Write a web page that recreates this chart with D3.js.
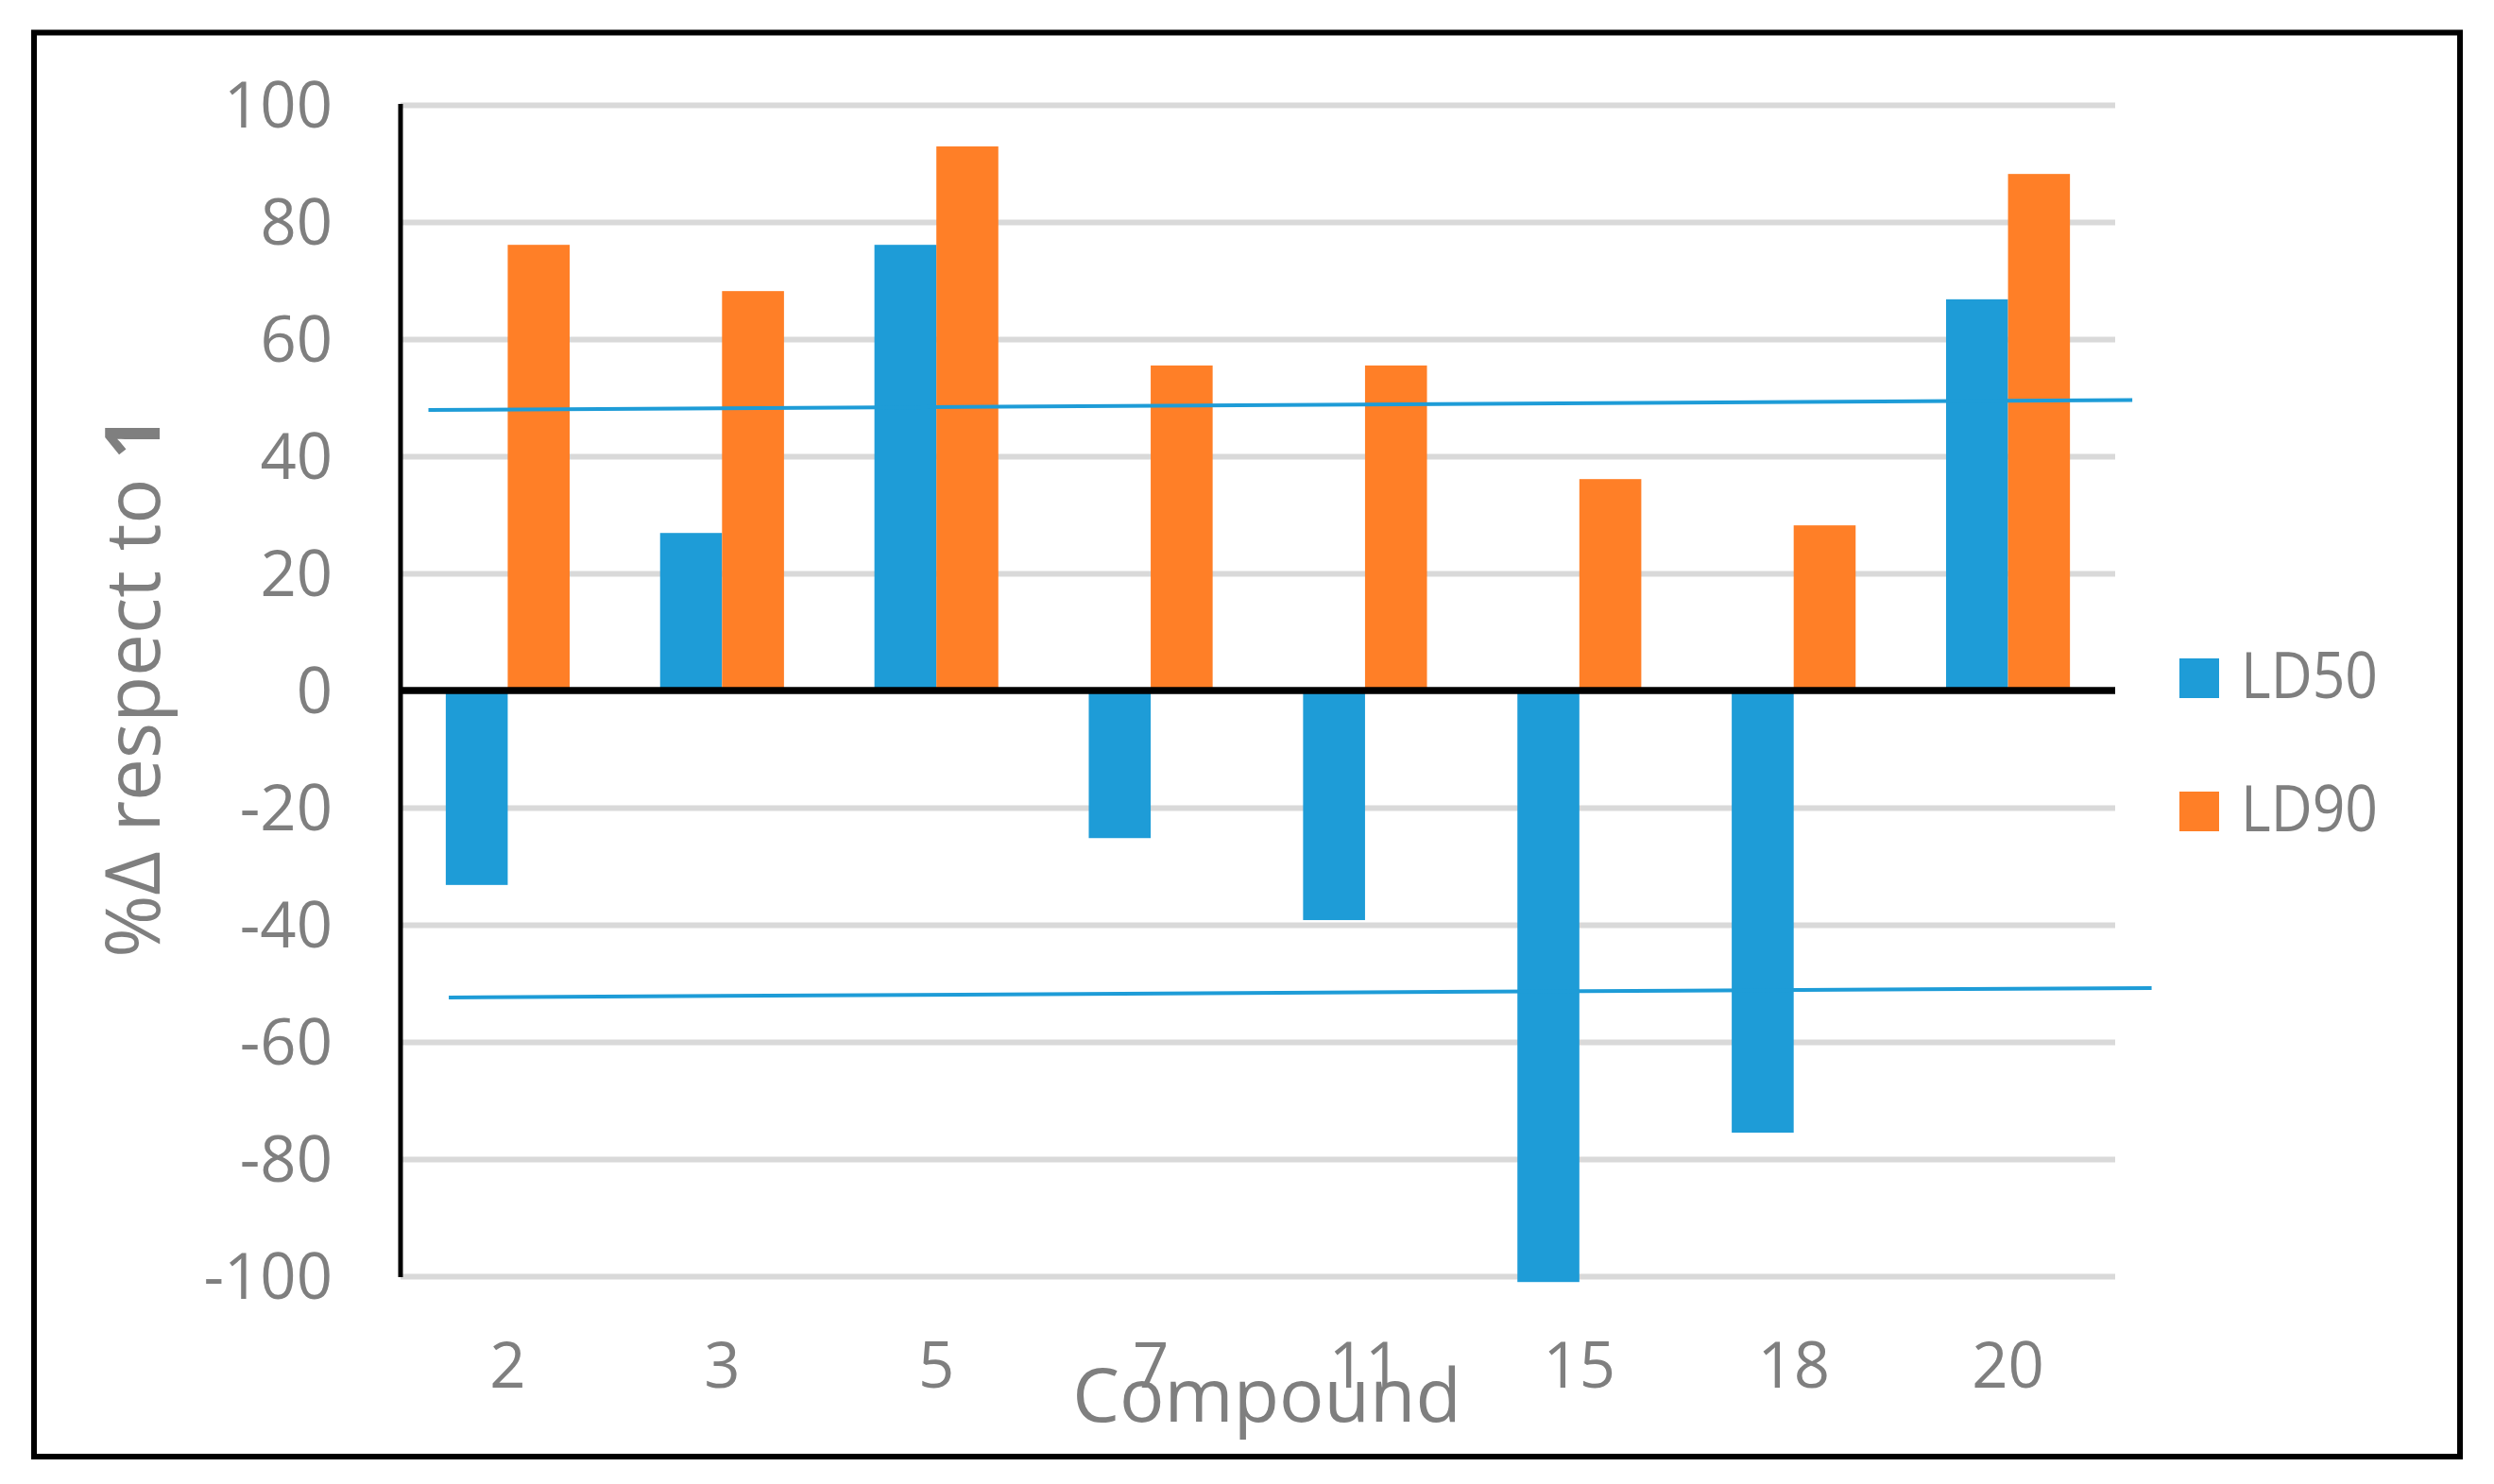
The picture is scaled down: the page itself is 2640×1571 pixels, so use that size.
<!DOCTYPE html>
<html>
<head>
<meta charset="utf-8">
<script src="https://cdn.jsdelivr.net/npm/d3@7"></script>
<style>
  html, body { margin: 0; padding: 0; background: #ffffff; }
  svg { display: block; }
  text { font-family: "Open Sans", "Noto Sans", sans-serif; }
</style>
</head>
<body>
<script>
// ---- data ----
const categories = ["2", "3", "5", "7", "11", "15", "18", "20"];
const seriesNames = ["LD50", "LD90"];
const ld50 = [-33.2, 26.9, 76.1, -25.2, -39.2, -101, -75.5, 66.8];
const ld90 = [76.1, 68.2, 92.9, 55.5, 55.5, 36.1, 28.2, 88.2];
const yTicks = [-100, -80, -60, -40, -20, 0, 20, 40, 60, 80, 100];
const seriesColors = ["#1e9cd7", "#ff7f27"];
// hand-drawn reference lines: category-position (0..8) and value at each end
const refLineX0 = [0.13, 0.225];
const refLineX1 = [8.08, 8.17];
const refLineY0 = [47.9, -52.4];
const refLineY1 = [49.6, -50.8];
const xTitle = "Compound";
const yTitleMain = "%\u0394 respect to ";
const yTitleBold = "1";

(function () {
// ---- layout ----
const W = 2640, H = 1571;
const pLeft = 424, pRight = 2239, pTop = 111, pBottom = 1351;
const textGray = "#7f7f7f";

const svg = d3.select("body").append("svg").attr("width", W).attr("height", H);
svg.append("rect").attr("width", W).attr("height", H).attr("fill", "#fff");

// outer frame
svg.append("rect").attr("x", 36).attr("y", 34.5).attr("width", 2604 - 36).attr("height", 1542 - 34.5)
  .attr("fill", "none").attr("stroke", "#000").attr("stroke-width", 6);

const x = d3.scaleBand().domain(categories).range([pLeft, pRight]).padding(0);
const xs = d3.scaleBand().domain(seriesNames).range([0, x.bandwidth()]).paddingInner(0).paddingOuter(0.73);
const y = d3.scaleLinear().domain([-100, 100]).range([pBottom, pTop]);
const xPos = d3.scaleLinear().domain([0, categories.length]).range([pLeft, pRight]);

// gridlines
const grid = svg.append("g").attr("transform", `translate(${pLeft},0)`)
  .call(d3.axisLeft(y).tickValues(yTicks.filter(d => d !== 0)).tickSize(-(pRight - pLeft)).tickFormat(""));
grid.select(".domain").remove();
grid.selectAll("line").attr("stroke", "#d9d9d9").attr("stroke-width", 6);

// y tick labels
const yAx = svg.append("g").attr("transform", `translate(${pLeft},0)`)
  .call(d3.axisLeft(y).tickValues(yTicks).tickSize(0).tickPadding(72).tickFormat(d => String(d)));
yAx.select(".domain").remove();
yAx.selectAll("text").attr("fill", textGray).attr("font-size", 67)
  .attr("font-family", "'Open Sans', sans-serif").attr("dy", "0.35em");

// bars
const table = categories.map((c, i) => ({ c, vals: [ld50[i], ld90[i]] }));
const groups = svg.append("g").selectAll("g").data(table).join("g")
  .attr("transform", d => `translate(${x(d.c)},0)`);
groups.selectAll("rect").data(d => d.vals.map((v, j) => ({ s: seriesNames[j], v, j })))
  .join("rect")
  .attr("x", d => xs(d.s))
  .attr("width", xs.bandwidth())
  .attr("y", d => Math.min(y(d.v), y(0)))
  .attr("height", d => Math.abs(y(d.v) - y(0)))
  .attr("fill", d => seriesColors[d.j]);

// zero line
svg.append("line").attr("x1", pLeft).attr("x2", pRight).attr("y1", y(0)).attr("y2", y(0))
  .attr("stroke", "#000").attr("stroke-width", 7.5);
// y axis line
svg.append("line").attr("x1", pLeft).attr("x2", pLeft).attr("y1", y(100) - 1).attr("y2", y(-100) + 1)
  .attr("stroke", "#000").attr("stroke-width", 5);

// reference lines
refLineX0.forEach((x0, i) => {
  svg.append("line")
    .attr("x1", xPos(x0)).attr("y1", y(refLineY0[i]))
    .attr("x2", xPos(refLineX1[i])).attr("y2", y(refLineY1[i]))
    .attr("stroke", seriesColors[0]).attr("stroke-width", 4);
});

// x tick labels
const xAx = svg.append("g").attr("transform", `translate(0,1469)`)
  .call(d3.axisBottom(x).tickSize(0).tickPadding(0));
xAx.select(".domain").remove();
xAx.selectAll("text").attr("fill", textGray).attr("font-size", 67)
  .attr("font-family", "'Open Sans', sans-serif").attr("dy", 0).attr("y", 0);

// axis titles
svg.append("text").attr("x", 1341).attr("y", 1505).attr("text-anchor", "middle")
  .attr("font-size", 79).attr("fill", textGray).text(xTitle);

const yt = svg.append("text").attr("transform", "translate(169,727) rotate(-90)")
  .attr("text-anchor", "middle").attr("font-size", 80).attr("fill", textGray);
yt.append("tspan").text(yTitleMain);
yt.append("tspan").attr("font-weight", "bold").text(yTitleBold);

// legend
const legY = [697, 838];
seriesNames.forEach((s, i) => {
  svg.append("rect").attr("x", 2307).attr("y", legY[i]).attr("width", 42).attr("height", 42)
    .attr("fill", seriesColors[i]);
  svg.append("text").attr("x", 2372).attr("y", legY[i] + 42).attr("font-size", 67)
    .attr("fill", textGray).attr("textLength", 145).attr("lengthAdjust", "spacingAndGlyphs").text(s);
});
})();
</script>
</body>
</html>
